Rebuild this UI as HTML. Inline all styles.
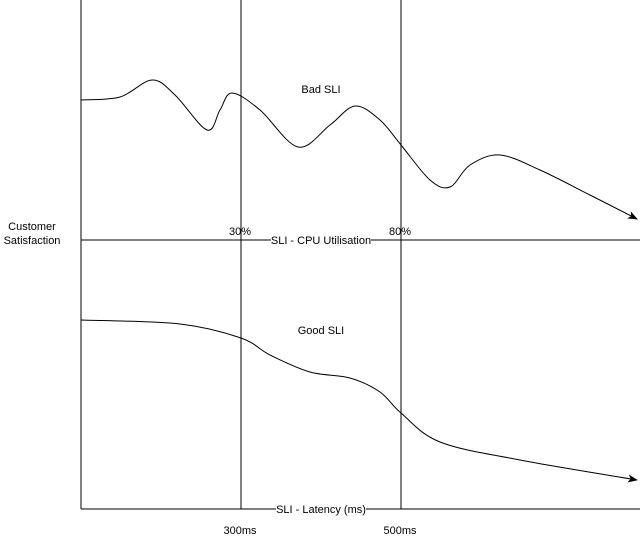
<!DOCTYPE html>
<html><head><meta charset="utf-8"><style>
body{margin:0;background:#fff;}
svg{display:block;font-family:"Liberation Sans",Arial,sans-serif;font-size:11px;}
</style></head><body>
<svg id="c" width="643" height="541" viewBox="0 0 643 541">
<defs><marker id="ah" markerWidth="10" markerHeight="8" refX="9" refY="4" orient="auto" markerUnits="userSpaceOnUse"><path d="M0,0 L10,4 L0,8 L2.5,4 Z" fill="#000"/></marker></defs>
<line x1="81" y1="0" x2="81" y2="509" stroke="#000"/>
<line x1="241" y1="0" x2="241" y2="509" stroke="#000"/>
<line x1="401" y1="0" x2="401" y2="509" stroke="#000"/>
<line x1="81" y1="240" x2="640" y2="240" stroke="#000"/>
<line x1="81" y1="509" x2="640" y2="509" stroke="#000"/>
<rect x="271" y="233" width="100" height="14" fill="#fff"/>
<text x="321" y="244" text-anchor="middle">SLI - CPU Utilisation</text>
<rect x="276" y="502" width="90" height="14" fill="#fff"/>
<text x="321" y="513" text-anchor="middle">SLI - Latency (ms)</text>
<text x="240" y="235" text-anchor="middle">30%</text>
<text x="400" y="235" text-anchor="middle">80%</text>
<text x="240" y="534" text-anchor="middle">300ms</text>
<text x="400" y="534" text-anchor="middle">500ms</text>
<text x="32" y="230" text-anchor="middle">Customer</text>
<text x="32" y="244" text-anchor="middle">Satisfaction</text>
<text x="321" y="93" text-anchor="middle">Bad SLI</text>
<text x="321" y="334" text-anchor="middle">Good SLI</text>
</svg>
<script>
const badX=[81,120,152,175,207,220,232,260,298,330,355,380,401,430,450,470,500,540,590,637];
const badY=[100,97,80,95,130,110,93,110,147,125,106,120,145,180,187,165,155,170,195,219];
const goodX=[81,180,241,270,310,350,380,401,440,520,637];
const goodY=[320,324,338,355,372,378,392,413,442,460,480];
function smooth(xs,ys){
  let d='M'+xs[0]+','+ys[0];
  for(let i=0;i<xs.length-1;i++){
    const x0=xs[Math.max(i-1,0)],y0=ys[Math.max(i-1,0)];
    const x3=xs[Math.min(i+2,xs.length-1)],y3=ys[Math.min(i+2,xs.length-1)];
    const c1x=xs[i]+(xs[i+1]-x0)/6,c1y=ys[i]+(ys[i+1]-y0)/6;
    const c2x=xs[i+1]-(x3-xs[i])/6,c2y=ys[i+1]-(y3-ys[i])/6;
    d+=' C'+c1x+','+c1y+' '+c2x+','+c2y+' '+xs[i+1]+','+ys[i+1];
  }
  return d;
}
const svg=document.getElementById('c');
function addCurve(xs,ys,name){
  const p=document.createElementNS('http://www.w3.org/2000/svg','path');
  p.setAttribute('d',smooth(xs,ys));
  p.setAttribute('fill','none');p.setAttribute('stroke','#000');
  p.setAttribute('marker-end','url(#ah)');
  
  
  svg.appendChild(p);
}
addCurve(badX,badY,'bad-sli-curve');
addCurve(goodX,goodY,'good-sli-curve');
</script>
</body></html>
